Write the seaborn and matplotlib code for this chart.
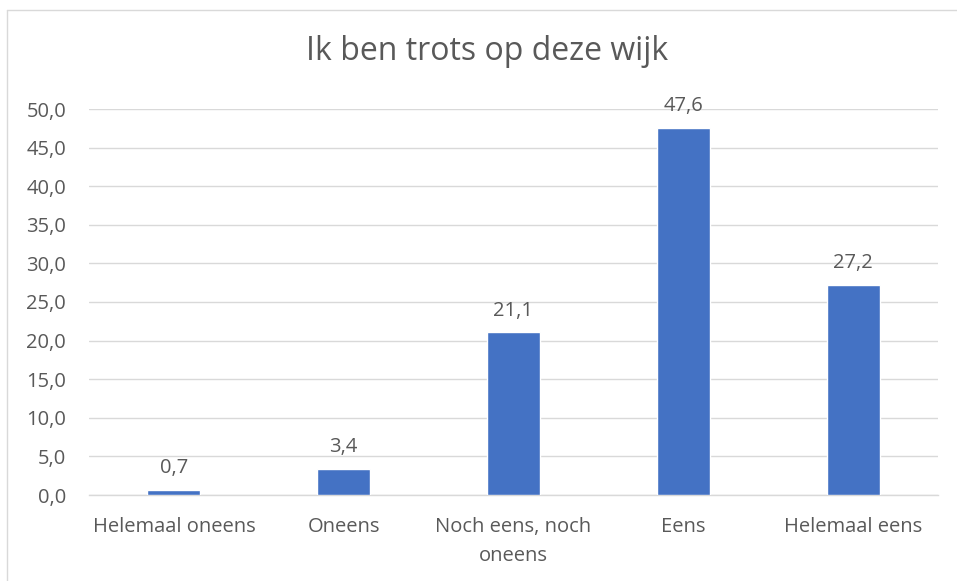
import matplotlib
matplotlib.use("Agg")
import matplotlib.pyplot as plt
import seaborn as sns
import pandas as pd
from matplotlib.lines import Line2D

categories = ["Helemaal oneens", "Oneens", "Noch eens, noch\noneens", "Eens", "Helemaal eens"]
values = [0.7, 3.4, 21.1, 47.6, 27.2]
yticks = [0, 5, 10, 15, 20, 25, 30, 35, 40, 45, 50]
title = "Ik ben trots op deze wijk"

sns.set_theme(style="white")
plt.rcParams['font.family'] = ['Open Sans', 'DejaVu Sans']
txt = "#595959"
fs = 14.5

df = pd.DataFrame({"cat": categories, "val": values})
fig = plt.figure(figsize=(9.57, 5.81), dpi=100)
ax = fig.add_axes([89/957, 1-495/581, (938-89)/957, (495-109)/581])
sns.barplot(data=df, x="cat", y="val", color="#4472C4", width=0.312, ax=ax, saturation=1, zorder=3)
ax.set_ylim(0, 50)
ax.set_yticks(yticks)
ax.set_yticklabels([f"{v:.1f}".replace(".", ",") for v in yticks], fontsize=fs, color=txt)
ax.set_xticks(range(len(categories)))
ax.set_xticklabels(categories, fontsize=fs, color=txt, linespacing=1.6)
ax.set_xlabel("")
ax.set_ylabel("")
ax.grid(axis="y", color="#D9D9D9", linewidth=1.0, zorder=0)
for s in ["top", "right", "left"]:
    ax.spines[s].set_visible(False)
ax.spines["bottom"].set_color("#D9D9D9")
ax.spines["bottom"].set_linewidth(1.0)
ax.tick_params(axis="y", length=0, pad=16.5)
ax.tick_params(axis="x", length=0, pad=16)
ax.set_xlim(-0.5, len(categories) - 0.5)
for i, v in enumerate(values):
    ax.text(i, v + 1.5, f"{v:.1f}".replace(".", ","), ha="center", va="bottom", fontsize=fs, color=txt)
fig.text(487/957, 1-52/581, title, ha="center", va="center", fontsize=23, color=txt)
# chart border
fig.add_artist(Line2D([7/957, 7/957], [0, 1-10/581], transform=fig.transFigure, color="#D9D9D9", linewidth=1))
fig.add_artist(Line2D([7/957, 1], [1-10/581, 1-10/581], transform=fig.transFigure, color="#D9D9D9", linewidth=1))
fig.savefig("out.png", dpi=100)
